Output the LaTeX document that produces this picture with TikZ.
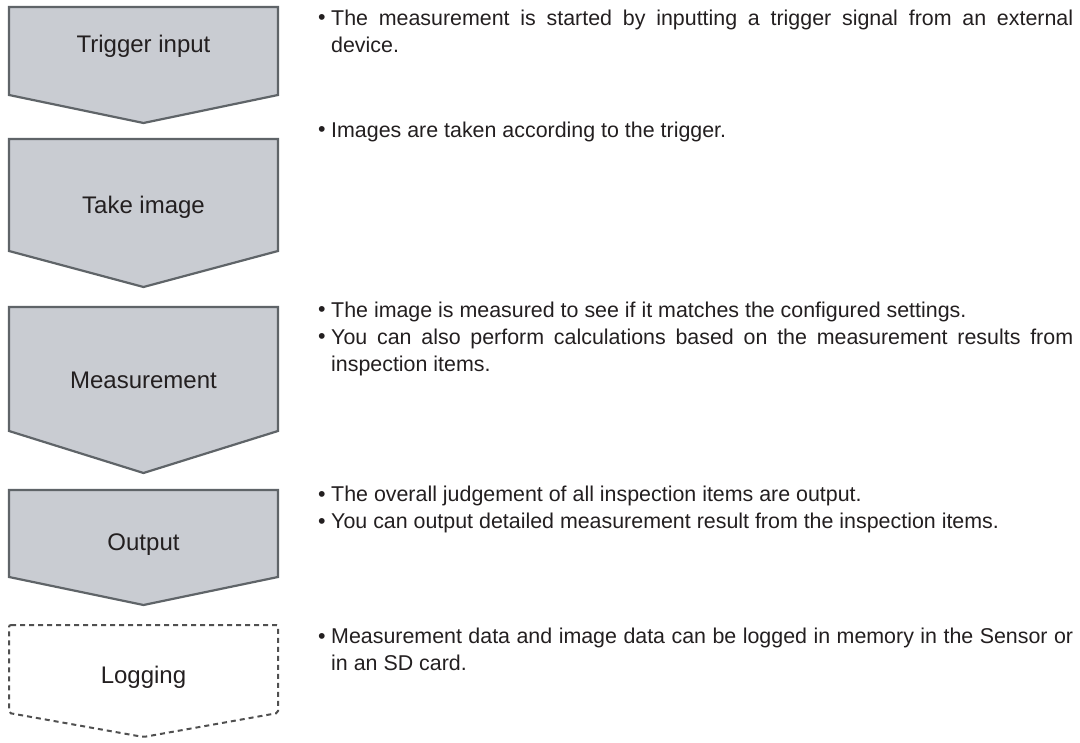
\documentclass[tikz,border=0pt]{standalone}
\usepackage{fontspec}
\setmainfont{Liberation Sans}
\definecolor{boxfill}{RGB}{201,204,210}
\definecolor{boxline}{RGB}{95,100,104}
\definecolor{dashline}{RGB}{80,80,80}
\definecolor{txt}{RGB}{35,31,32}
\tikzset{
  stepshape/.style={fill=boxfill, draw=boxline, line width=2.2pt, line join=miter},
  logshape/.style={draw=dashline, line width=2pt, dash pattern=on 5pt off 4pt, rounded corners=2pt},
  lbl/.style={font=\fontsize{24}{28}\selectfont, text=txt, inner sep=0pt, anchor=center},
  bul/.style={font=\fontsize{21.4}{27}\selectfont, text=txt, inner sep=0pt, anchor=base west},
  desc/.style={anchor=north west, text width=742pt, align=justify, inner sep=0pt,
    font=\fontsize{21.4}{27}\selectfont, text=txt},
}
\begin{document}
\begin{tikzpicture}[x=1pt,y=-1pt]
\fill[white] (0,0) rectangle (1080,743);
\useasboundingbox (0,0) rectangle (1080,743);
% step shapes
\draw[stepshape] (9,7) -- (278,7) -- (278,95) -- (143.5,123) -- (9,95) -- cycle;
\draw[stepshape] (9,139) -- (278,139) -- (278,251) -- (143.5,287) -- (9,251) -- cycle;
\draw[stepshape] (9,307) -- (278,307) -- (278,431) -- (143.5,473) -- (9,431) -- cycle;
\draw[stepshape] (9,490) -- (278,490) -- (278,577) -- (143.5,605) -- (9,577) -- cycle;
\draw[logshape] (9,625) -- (278,625) -- (278,713) -- (143.5,737) -- (9,713) -- cycle;
% labels
\node[lbl] (s1) at (143.5,46) {Trigger input};
\node[lbl] (s2) at (143.5,207) {Take image};
\node[lbl] (s3) at (143.5,380) {Measurement};
\node[lbl] (s4) at (143.5,545) {Output};
\node[lbl] (s5) at (143.5,677) {Logging};
% bullets
\node[bul] (b1) at (318,25) {\textbullet};
\node[bul] (b2) at (318,137) {\textbullet};
\node[bul] (b3) at (318,317) {\textbullet};
\node[bul] (b4) at (318,344) {\textbullet};
\node[bul] (b5) at (318,501) {\textbullet};
\node[bul] (b6) at (318,528) {\textbullet};
\node[bul] (b7) at (318,643) {\textbullet};
% descriptions
\node[desc] (d1) at (331,6.1) {\strut\tolerance=10000 The measurement is started by inputting a trigger signal from an external\linebreak device.};
\node[desc] (d2) at (331,118.1) {\strut Images are taken according to the trigger.};
\node[desc] (d3) at (331,298.1) {\strut The image is measured to see if it matches the configured settings.\par
  \tolerance=10000 You can also perform calculations based on the measurement results from\linebreak inspection items.};
\node[desc] (d4) at (331,482.1) {\strut The overall judgement of all inspection items are output.\par
  You can output detailed measurement result from the inspection items.};
\node[desc] (d5) at (331,624.1) {\strut\tolerance=10000 Measurement data and image data can be logged in memory in the Sensor or\linebreak in an SD card.};
\end{tikzpicture}
\end{document}
